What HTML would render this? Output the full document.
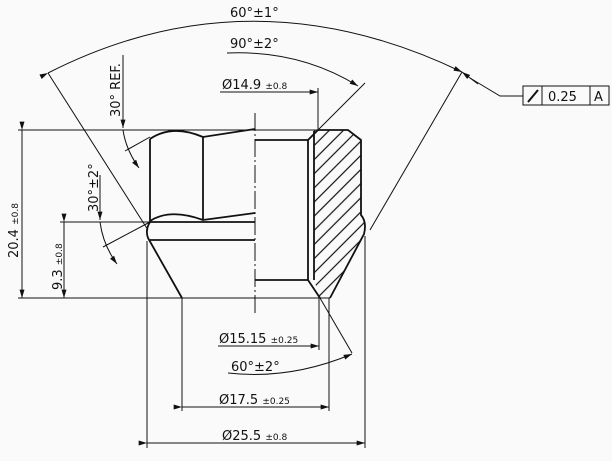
<!DOCTYPE html>
<html><head><meta charset="utf-8"><style>
html,body{margin:0;padding:0;background:#fafafa}
svg{display:block}
text{font-family:"DejaVu Sans","Liberation Sans",sans-serif;fill:#111}
</style></head><body>
<svg width="612" height="461" viewBox="0 0 612 461" xmlns="http://www.w3.org/2000/svg">
<defs>
<marker id="a" viewBox="0 0 10 6" refX="10" refY="3" markerWidth="10" markerHeight="5" orient="auto" markerUnits="userSpaceOnUse"><path d="M0,0 L10,3 L0,6 z" fill="#111"/></marker>
<pattern id="h" width="10" height="10" patternUnits="userSpaceOnUse" patternTransform="rotate(45)"><line x1="0" y1="0" x2="0" y2="10" stroke="#111" stroke-width="1.2" transform="translate(5,0)"/></pattern>
</defs>
<g stroke="#111" fill="none" stroke-width="1">
<line x1="18" y1="130" x2="318" y2="130"/>
<line x1="18" y1="298" x2="330" y2="298"/>
<line x1="60" y1="222" x2="150" y2="222"/>
<line x1="22" y1="130" x2="22" y2="298" marker-start="url(#a)" marker-end="url(#a)"/>
<line x1="64" y1="222" x2="64" y2="298" marker-start="url(#a)" marker-end="url(#a)"/>
<line x1="255" y1="113" x2="255" y2="313" stroke-dasharray="18,3,2,3"/>
<path d="M314,130 L348,130 L361,140 L361,215 Q366,222 365,232 L330,298 L320,298 L314,280 Z" fill="url(#h)" stroke="none"/>
</g>
<g stroke="#111" fill="none" stroke-width="1.8">
<line x1="150" y1="139" x2="150" y2="222"/>
<line x1="203" y1="137" x2="203" y2="220"/>
<path d="M150,139 Q172,124 203,137 L255,129"/>
<path d="M150,221 Q170,208 203,220 L255,213"/>
<line x1="150" y1="222" x2="255" y2="222"/>
<line x1="150" y1="240" x2="255" y2="240"/>
<path d="M150,222 Q145,230 148,238 L182,298"/>
<path d="M255,140 L308,140 L308,280 L255,280"/>
<path d="M308,140 L318,130 L348,130 L361,140 L361,215 Q367,222 364,234 L330,298"/>
<line x1="314" y1="131" x2="314" y2="280"/>
<path d="M308,280 L320,298"/>
</g>
<g stroke="#111" fill="none" stroke-width="1">
<line x1="48" y1="73" x2="148" y2="230"/>
<line x1="462" y1="72" x2="370" y2="230"/>
<path d="M48,73 Q250,-30 462,72" marker-start="url(#a)" marker-end="url(#a)"/>
<polyline points="470,78 500,96 523,96"/>
<line x1="478" y1="84" x2="462" y2="72" marker-end="url(#a)"/>
<rect x="523" y="86" width="86" height="19"/>
<line x1="542" y1="86" x2="542" y2="105"/>
<line x1="590" y1="86" x2="590" y2="105"/>
<line x1="528" y1="102" x2="538" y2="90" stroke-width="2"/>
<line x1="318" y1="130" x2="365" y2="83"/>
<path d="M227,53 Q300,50 358,86" marker-end="url(#a)"/>
<line x1="318" y1="88" x2="318" y2="130"/>
<line x1="220" y1="92" x2="318" y2="92" marker-end="url(#a)"/>
<line x1="123" y1="55" x2="123" y2="128" marker-end="url(#a)"/>
<path d="M123,130 Q126,150 139,168" marker-end="url(#a)"/>
<line x1="125" y1="151" x2="150" y2="137"/>
<line x1="100" y1="175" x2="100" y2="220" marker-end="url(#a)"/>
<path d="M100,222 Q103,245 117,264" marker-end="url(#a)"/>
<line x1="103" y1="247" x2="150" y2="222"/>
<line x1="319" y1="298" x2="319" y2="350"/>
<line x1="218" y1="346" x2="319" y2="346" marker-end="url(#a)"/>
<line x1="320" y1="298" x2="352" y2="353"/>
<path d="M228,373 Q290,380 352,354" marker-end="url(#a)"/>
<line x1="182" y1="298" x2="182" y2="411"/>
<line x1="329" y1="298" x2="329" y2="411"/>
<line x1="182" y1="407" x2="329" y2="407" marker-start="url(#a)" marker-end="url(#a)"/>
<line x1="147" y1="241" x2="147" y2="448"/>
<line x1="365" y1="236" x2="365" y2="448"/>
<line x1="147" y1="443" x2="365" y2="443" marker-start="url(#a)" marker-end="url(#a)"/>
</g>
<g font-size="13">
<text x="230" y="17">60°±1°</text>
<text x="230" y="48">90°±2°</text>
<text x="222" y="89">Ø14.9 <tspan font-size="9">±0.8</tspan></text>
<text x="548" y="101">0.25</text>
<text x="594" y="101">A</text>
<text transform="translate(120,117) rotate(-90)">30° REF.</text>
<text transform="translate(98,212) rotate(-90)">30°±2°</text>
<text transform="translate(18,258) rotate(-90)">20.4 <tspan font-size="9">±0.8</tspan></text>
<text transform="translate(62,290) rotate(-90)">9.3 <tspan font-size="9">±0.8</tspan></text>
<text x="219" y="343">Ø15.15 <tspan font-size="9">±0.25</tspan></text>
<text x="231" y="371">60°±2°</text>
<text x="219" y="404">Ø17.5 <tspan font-size="9">±0.25</tspan></text>
<text x="222" y="440">Ø25.5 <tspan font-size="9">±0.8</tspan></text>
</g>
</svg>
</body></html>
